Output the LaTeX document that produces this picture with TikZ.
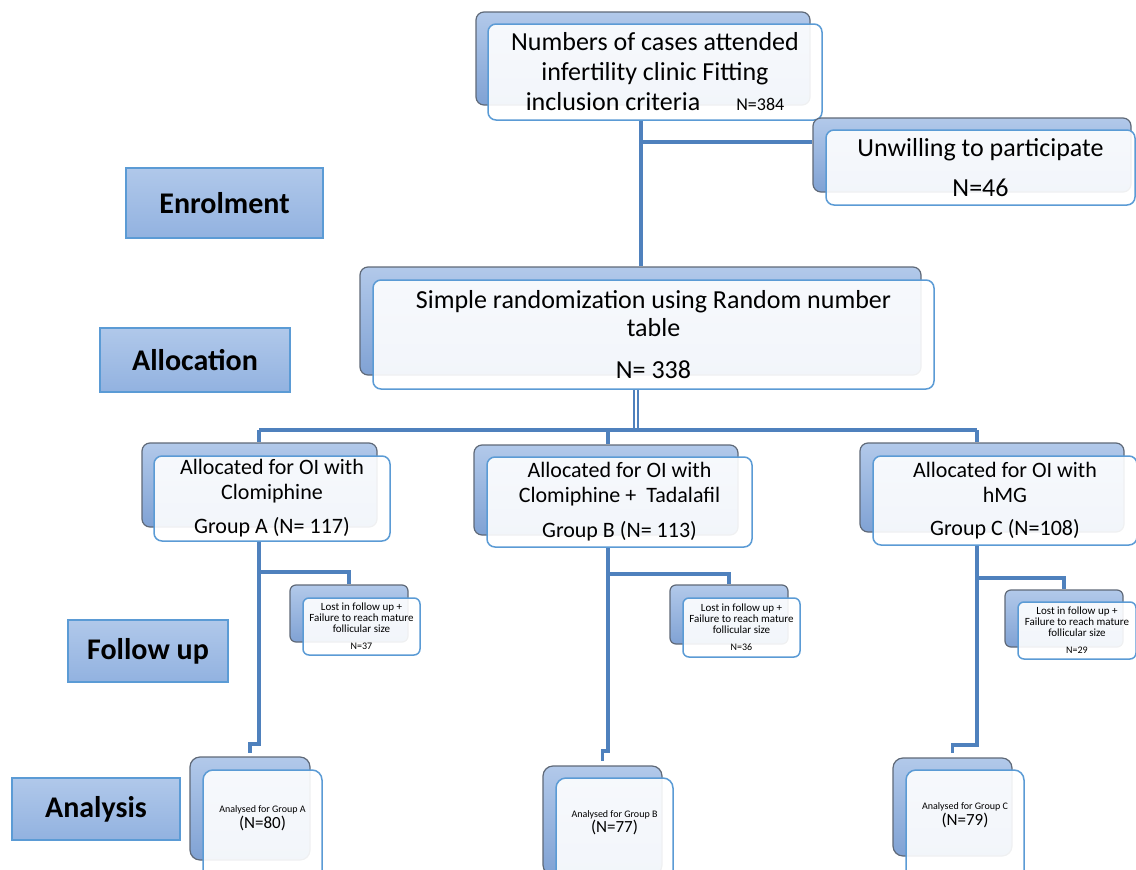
\documentclass[tikz,border=0pt]{standalone}
\usepackage{fontspec}
\setmainfont{Carlito}
\usetikzlibrary{backgrounds,calc}
\definecolor{linkblue}{RGB}{79,129,189}
\definecolor{frontedge}{RGB}{91,155,213}
\definecolor{backedge}{RGB}{95,105,120}
\definecolor{backtop}{RGB}{178,201,234}
\definecolor{backbot}{RGB}{128,162,212}
\definecolor{stagetop}{RGB}{176,200,234}
\definecolor{stagebot}{RGB}{146,178,224}
\newcommand{\bigtxt}{\fontsize{26}{28}\selectfont}
\newcommand{\midtxt}{\fontsize{22}{25}\selectfont}
\newcommand{\smalltxt}{\fontsize{11}{11}\selectfont}
\newcommand{\tinytxt}{\fontsize{10}{11}\selectfont}

\begin{document}
\begin{tikzpicture}[x=1pt, y=-1pt,
  backbox/.style={draw=backedge, line width=1.2pt, rounded corners=8pt, top color=backtop, bottom color=backbot},
  frontbox/.style={draw=frontedge, line width=1.5pt, rounded corners=8pt, fill=white, fill opacity=0.9, text opacity=1, align=center, inner sep=0pt},
  stagebox/.style={draw=frontedge, line width=2pt, top color=stagetop, bottom color=stagebot, font=\fontsize{30}{32}\selectfont\bfseries},
  link/.style={draw=linkblue, line width=3.3pt}]
  \useasboundingbox (0,0) rectangle (1136,870);

  % Stage labels
  \node[stagebox, minimum width=197pt, minimum height=70pt] (enrol) at (224.5,203) {Enrolment};
  \node[stagebox, minimum width=190pt, minimum height=64pt] (alloc) at (195,360) {Allocation};
  \node[stagebox, minimum width=160pt, minimum height=62pt] (follow) at (148,651) {Follow up};
  \node[stagebox, minimum width=168pt, minimum height=62pt] (analysis) at (96,809) {Analysis};

  % Screening
  \node[backbox, minimum width=334pt, minimum height=93pt] (topback) at (643,58.5) {};
  \node[frontbox, minimum width=334pt, minimum height=96pt, font=\fontsize{26}{30}\selectfont] (topfront) at (655,72) {Numbers of cases attended\\infertility clinic Fitting\\inclusion criteria\hspace{36pt}{\fontsize{18}{20}\selectfont N=384}};

  % Excluded
  \node[backbox, minimum width=318pt, minimum height=74pt] (unwback) at (972,155) {};
  \node[frontbox, minimum width=309pt, minimum height=75pt, font=\bigtxt] (unwfront) at (980.5,167.5) {Unwilling to participate\\[12pt]N=46};

  % Randomization
  \node[backbox, minimum width=561pt, minimum height=108pt] (randback) at (640.5,321) {};
  \node[frontbox, minimum width=561pt, minimum height=109pt, font=\bigtxt] (randfront) at (653.5,334.5) {Simple randomization using Random number\\table\\[14pt]N= 338};

  % Groups
  \node[backbox, minimum width=235pt, minimum height=84pt] (gAback) at (259.5,485) {};
  \node[frontbox, minimum width=236pt, minimum height=85pt, font=\midtxt] (gAfront) at (272,498.5) {Allocated for OI with\\Clomiphine\\[9pt]Group A (N= 117)};
  \node[backbox, minimum width=264pt, minimum height=90pt] (gBback) at (606,490) {};
  \node[frontbox, minimum width=265pt, minimum height=90pt, font=\midtxt] (gBfront) at (619.5,502) {Allocated for OI with\\Clomiphine +\ \ Tadalafil\\[10pt]Group B (N= 113)};
  \node[backbox, minimum width=264pt, minimum height=89pt] (gCback) at (992,487.5) {};
  \node[frontbox, minimum width=264pt, minimum height=89pt, font=\midtxt] (gCfront) at (1005,500.5) {Allocated for OI with\\hMG\\[8pt]Group C (N=108)};

  % Lost to follow up
  \node[backbox, rounded corners=6pt, minimum width=118pt, minimum height=57pt] (lostAback) at (349,613.5) {};
  \node[frontbox, rounded corners=6pt, minimum width=117pt, minimum height=57pt, font=\smalltxt] (lostAfront) at (361.5,626.5) {Lost in follow up +\\Failure to reach mature\\follicular size\\[6pt]{\tinytxt N=37}};
  \node[backbox, rounded corners=6pt, minimum width=118pt, minimum height=59pt] (lostBback) at (729,614.5) {};
  \node[frontbox, rounded corners=6pt, minimum width=117pt, minimum height=59pt, font=\smalltxt] (lostBfront) at (741.5,627.5) {Lost in follow up +\\Failure to reach mature\\follicular size\\[6pt]{\tinytxt N=36}};
  \node[backbox, rounded corners=6pt, minimum width=118pt, minimum height=57pt] (lostCback) at (1064,618.5) {};
  \node[frontbox, rounded corners=6pt, minimum width=118pt, minimum height=57pt, font=\smalltxt] (lostCfront) at (1077,630.5) {Lost in follow up +\\Failure to reach mature\\follicular size\\[6pt]{\tinytxt N=29}};

  % Analysed
  \node[backbox, rounded corners=10pt, minimum width=120pt, minimum height=103pt] (anaAback) at (250,808.5) {};
  \node[frontbox, rounded corners=10pt, minimum width=119pt, minimum height=120pt, font=\tinytxt, text depth=26pt] (anaAfront) at (262.5,830) {Analysed for Group A\\{\fontsize{17}{17}\selectfont(N=80)}};
  \node[backbox, rounded corners=10pt, minimum width=119pt, minimum height=109pt] (anaBback) at (602.5,820.5) {};
  \node[frontbox, rounded corners=10pt, minimum width=117pt, minimum height=117pt, font=\tinytxt, text depth=30pt] (anaBfront) at (614.5,836.5) {Analysed for Group B\\{\fontsize{17}{17}\selectfont(N=77)}};
  \node[backbox, rounded corners=10pt, minimum width=119pt, minimum height=98pt] (anaCback) at (952.5,807) {};
  \node[frontbox, rounded corners=10pt, minimum width=118pt, minimum height=120pt, font=\tinytxt, text depth=32pt] (anaCfront) at (965,830) {Analysed for Group C\\{\fontsize{17}{17}\selectfont(N=79)}};

  % Connectors
  \begin{scope}[on background layer]
    \coordinate (split) at (641,142);
    \draw[link] (topfront.south -| split) -- (randback.north -| split);
    \draw[link] (split) -- (split -| unwback.west);

    \coordinate (fork) at (636,430);
    \draw[link, line width=2.2pt, double=white, double distance=2.4pt] (randfront.south -| fork) -- (fork);
    \coordinate (stemA) at (259,430);
    \coordinate (stemB) at (608,430);
    \coordinate (stemC) at (977,430);
    \draw[link] (stemA) -- (stemC);
    \draw[link] (stemA) -- (stemA |- gAback.north);
    \draw[link] (stemB) -- (stemB |- gBback.north);
    \draw[link] (stemC) -- (stemC |- gCback.north);

    \coordinate (lostjA) at (259,572);
    \coordinate (jogA) at (259,744);
    \draw[link] (stemA |- gAfront.south) -- (lostjA) -- (lostjA -| lostAback.north) -- (lostAback.north);
    \draw[link] (lostjA) -- (jogA) -- (jogA -| anaAback.north) -- ([yshift=3pt]anaAback.north);

    \coordinate (lostjB) at (608,574);
    \coordinate (jogB) at (608,751);
    \draw[link] (stemB |- gBfront.south) -- (lostjB) -- (lostjB -| lostBback.north) -- (lostBback.north);
    \draw[link] (lostjB) -- (jogB) -- (jogB -| anaBback.north) -- ([yshift=4pt]anaBback.north);

    \coordinate (lostjC) at (977,578);
    \coordinate (jogC) at (977,745);
    \draw[link] (stemC |- gCfront.south) -- (lostjC) -- (lostjC -| lostCback.north) -- (lostCback.north);
    \draw[link] (lostjC) -- (jogC) -- (jogC -| anaCback.north) -- ([yshift=4pt]anaCback.north);
  \end{scope}
\end{tikzpicture}
\end{document}
